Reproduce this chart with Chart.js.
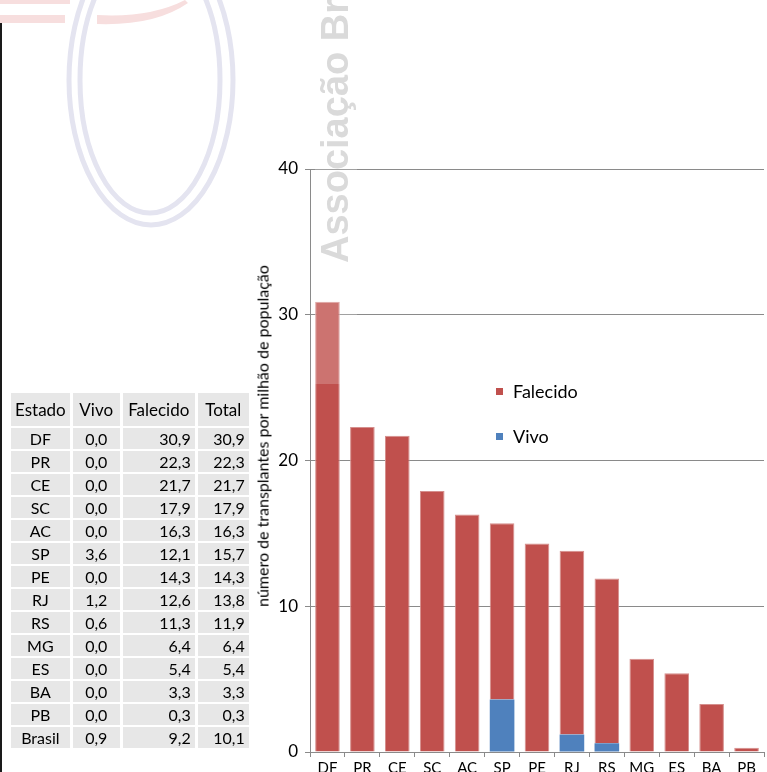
<!DOCTYPE html>
<html>
<head>
<meta charset="utf-8">
<script src="https://cdn.jsdelivr.net/npm/chart.js@4.4.0/dist/chart.umd.min.js"></script>
<style>
  html, body { margin: 0; padding: 0; background: #fff; }
  #wrap { position: relative; width: 767px; height: 772px; overflow: hidden; font-family: Lato, "Open Sans", sans-serif; }
  #c { position: absolute; left: 0; top: 0; }
  #leftline { position: absolute; left: 0; top: 23px; width: 2px; height: 749px; background: #1a1a1a; }
  #tbl { position: absolute; left: 8px; top: 391px; border-collapse: separate; border-spacing: 3px 2px; }
  #tbl td, #tbl th { background: #e7e7e7; color: #000; padding: 0 4px; font-weight: normal; }
  #tbl th { font-size: 17px; height: 33px; text-align: center; }
  #tbl td { font-size: 16px; height: 21px; line-height: 21px; }
  #tbl td.c { text-align: center; }
  #tbl td.r { text-align: right; }
  #ytitle { position: absolute; left: 262px; top: 436px; transform: translate(-50%, -50%) rotate(-90deg); white-space: nowrap; font-size: 16px; color: #000; }
  .leg { position: absolute; font-size: 18px; color: #000; white-space: nowrap; }
  .leg span.m { position: absolute; width: 7px; height: 7px; left: -17px; top: 8px; }
</style>
</head>
<body>
<div id="wrap">
  <canvas id="c" width="767" height="772"></canvas>
  <div id="leftline"></div>
  <table id="tbl"><thead></thead><tbody></tbody></table>
  <div id="ytitle">número de transplantes por milhão de população</div>
  <div id="legend"></div>
</div>
<script>
// ---- data ----
const categories = ["DF","PR","CE","SC","AC","SP","PE","RJ","RS","MG","ES","BA","PB"];
const vivo      = [0.0, 0.0, 0.0, 0.0, 0.0, 3.6, 0.0, 1.2, 0.6, 0.0, 0.0, 0.0, 0.0];
const falecido  = [30.9, 22.3, 21.7, 17.9, 16.3, 12.1, 14.3, 12.6, 11.3, 6.4, 5.4, 3.3, 0.3];
const tableStates = ["DF","PR","CE","SC","AC","SP","PE","RJ","RS","MG","ES","BA","PB","Brasil"];
const tableVivo     = ["0,0","0,0","0,0","0,0","0,0","3,6","0,0","1,2","0,6","0,0","0,0","0,0","0,0","0,9"];
const tableFalecido = ["30,9","22,3","21,7","17,9","16,3","12,1","14,3","12,6","11,3","6,4","5,4","3,3","0,3","9,2"];
const tableTotal    = ["30,9","22,3","21,7","17,9","16,3","15,7","14,3","13,8","11,9","6,4","5,4","3,3","0,3","10,1"];
const tableHeaders = ["Estado","Vivo","Falecido","Total"];
const seriesNames = ["Falecido","Vivo"];
const yTicks = [0, 10, 20, 30, 40];

// ---- table ----
const thead = document.querySelector('#tbl thead');
const hr = document.createElement('tr');
tableHeaders.forEach(h => { const th = document.createElement('th'); th.textContent = h; hr.appendChild(th); });
thead.appendChild(hr);
const widths = [49, 39, 64, 43];
hr.querySelectorAll('th').forEach((th,i)=> th.style.width = widths[i] + 'px');
const tbody = document.querySelector('#tbl tbody');
tableStates.forEach((s, i) => {
  const tr = document.createElement('tr');
  [[s,'c'],[tableVivo[i],'c'],[tableFalecido[i],'r'],[tableTotal[i],'r']].forEach(([t,cls]) => {
    const td = document.createElement('td'); td.textContent = t; td.className = cls; tr.appendChild(td);
  });
  tbody.appendChild(tr);
});

// ---- legend ----
const legColors = { "Falecido": "#C0504D", "Vivo": "#4F81BD" };
const legPos = [[513, 380], [513, 425]];
const legend = document.getElementById('legend');
seriesNames.forEach((n, i) => {
  const d = document.createElement('div');
  d.className = 'leg';
  d.style.left = legPos[i][0] + 'px';
  d.style.top = legPos[i][1] + 'px';
  d.innerHTML = '<span class="m" style="background:' + legColors[n] + '"></span>' + n;
  legend.appendChild(d);
});

// ---- watermark plugin ----
const watermark = {
  id: 'watermark',
  beforeDraw(chart) {
    const ctx = chart.ctx;
    ctx.save();
    // pink logo fragments
    ctx.fillStyle = '#f7dede';
    ctx.fillRect(0, 0, 70, 4);
    ctx.fillRect(0, 15, 65, 8);
    ctx.beginPath();
    ctx.moveTo(97, 15);
    ctx.lineTo(97, 24);
    ctx.quadraticCurveTo(155, 26, 188, 3);
    ctx.lineTo(185, 0);
    ctx.quadraticCurveTo(150, 18, 97, 15);
    ctx.closePath();
    ctx.fill();
    // lavender ellipses
    ctx.strokeStyle = '#e4e4f0';
    ctx.lineWidth = 5;
    ctx.beginPath(); ctx.ellipse(151, 80, 82, 145, 0, 0, Math.PI * 2); ctx.stroke();
    ctx.beginPath(); ctx.ellipse(150, 80, 70, 133, 0, 0, Math.PI * 2); ctx.stroke();
    ctx.restore();
  },
  afterDatasetsDraw(chart) {
    const ctx = chart.ctx;
    ctx.save();
    ctx.fillStyle = 'rgba(255,255,255,0.2)';
    ctx.fillRect(315, 0, 42, 384);
    ctx.translate(348, 263);
    ctx.rotate(-Math.PI / 2);
    ctx.fillStyle = '#dadada';
    ctx.font = 'bold 38px "Liberation Sans", Arial, sans-serif';
    ctx.textBaseline = 'alphabetic';
    ctx.fillText('Associação Brasileira de Transplante', 0, 0);
    ctx.restore();
  }
};

// ---- chart ----
const gridColor = '#8a8a8a';
new Chart(document.getElementById('c'), {
  type: 'bar',
  data: {
    labels: categories,
    datasets: [
      { label: 'Vivo', data: vivo, backgroundColor: '#4F81BD', borderColor: '#7ea3d2', borderWidth: 0, stack: 's' },
      { label: 'Falecido', data: falecido, backgroundColor: '#C0504D', borderColor: '#d58f8d', borderWidth: { top: 1, left: 1, right: 1, bottom: 0 }, stack: 's' }
    ]
  },
  options: {
    responsive: false,
    animation: false,
    events: [],
    layout: { padding: { left: 250, right: 3, top: 169, bottom: 0 } },
    datasets: { bar: { categoryPercentage: 0.705, barPercentage: 1, borderSkipped: 'start' } },
    plugins: { legend: { display: false }, tooltip: { enabled: false } },
    scales: {
      x: {
        stacked: true,
        offset: true,
        grid: { display: true, drawOnChartArea: false, drawTicks: true, tickLength: 5, color: gridColor, offset: true },
        border: { display: true, color: gridColor, width: 1 },
        ticks: { color: '#000', font: { family: 'Lato', size: 15 }, padding: 2, maxRotation: 0, autoSkip: false },
        afterFit(s) { s.height = 20; }
      },
      y: {
        stacked: true,
        min: 0, max: 40,
        afterBuildTicks(s) { s.ticks = yTicks.map(v => ({ value: v })); },
        grid: { color: gridColor, tickLength: 5, drawTicks: true },
        border: { display: true, color: gridColor, width: 1 },
        ticks: { color: '#000', font: { family: 'Lato', size: 17 }, padding: 7 },
        afterFit(s) { s.width = 60; }
      }
    }
  },
  plugins: [watermark]
});
</script>
</body>
</html>
